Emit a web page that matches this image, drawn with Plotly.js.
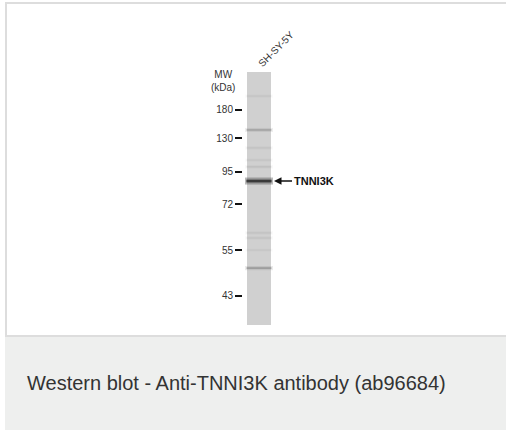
<!DOCTYPE html>
<html>
<head>
<meta charset="utf-8">
<script src="https://cdn.plot.ly/plotly-3.0.1.min.js"></script>
<style>html,body{margin:0;padding:0;background:#fff;}#chart{width:506px;height:430px;}</style>
</head>
<body>
<div id="chart"></div>
<script>
// ---- data ----
const laneLabels = ['SH-SY-5Y'];
const mwLabels = ['180', '130', '95', '72', '55', '43'];
// relative migration (0 = top of lane, 1 = bottom of lane) of the marker ladder
const mwRf = [0.150, 0.261, 0.395, 0.522, 0.704, 0.885];
// bands seen in the lane: relative migration and darkness (0..1)
const bandRf = [0.095, 0.229, 0.300, 0.348, 0.375, 0.431, 0.636, 0.656, 0.704, 0.775];
const bandIntensity = [0.05, 0.20, 0.06, 0.05, 0.07, 0.80, 0.06, 0.06, 0.04, 0.24];
const targetName = 'TNNI3K';
const targetRf = 0.431;
const mwTitle = 'MW<br>(kDa)';
const caption = 'Western blot - Anti-TNNI3K antibody (ab96684)';

// ---- layout geometry (pixels) ----
const W = 506, H = 430;
const L = 243, T = 72, PW = 32, PH = 253;
const R = W - L - PW, B = H - T - PH;
const px = v => (v - L) / PW;     // pixel x -> paper x
const py = v => (T + PH - v) / PH; // pixel y -> paper y
const FONT = 'Liberation Sans, Arial, Helvetica, sans-serif';

const laneX = laneLabels.map((_, i) => i);
const bandX = bandRf.map(() => 0);

const lane = {
  type: 'bar', x: laneX, y: laneX.map(() => 1), base: laneX.map(() => 0),
  width: 1, marker: {color: '#d0d0d0', line: {width: 0}},
  hoverinfo: 'skip', showlegend: false
};
const glow = {
  type: 'scatter', mode: 'markers', x: bandX, y: bandRf,
  marker: {
    symbol: 'line-ew', size: 20,
    line: {
      color: bandIntensity.map(a => 'rgba(40,40,40,' + (a * 0.4).toFixed(3) + ')'),
      width: bandIntensity.map(a => 3 + a * 5)
    }
  },
  hoverinfo: 'skip', showlegend: false
};
const core = {
  type: 'scatter', mode: 'markers', x: bandX, y: bandRf,
  marker: {
    symbol: 'line-ew', size: 18,
    line: {
      color: bandIntensity.map(a => 'rgba(35,35,35,' + a.toFixed(3) + ')'),
      width: bandIntensity.map(a => 1.2 + a * 2)
    }
  },
  hoverinfo: 'skip', showlegend: false
};

const layout = {
  width: W, height: H,
  margin: {l: L, r: R, t: T, b: B, pad: 0},
  paper_bgcolor: '#ffffff', plot_bgcolor: 'rgba(0,0,0,0)',
  font: {family: FONT, size: 10, color: '#333'},
  showlegend: false,
  xaxis: {
    range: [-0.6667, 0.6667], side: 'top', tickvals: laneX, ticktext: laneLabels,
    tickangle: -45, ticks: '', showgrid: false, zeroline: false, showline: false,
    tickfont: {family: FONT, size: 10, color: '#333'}, fixedrange: true
  },
  yaxis: {
    range: [1, 0], tickvals: mwRf, ticktext: mwLabels,
    ticks: 'outside', ticklen: 7, tickwidth: 2, tickcolor: '#111',
    showgrid: false, zeroline: false, showline: false,
    tickfont: {family: FONT, size: 10, color: '#333'}, fixedrange: true
  },
  shapes: [
    {type: 'rect', layer: 'below', xref: 'paper', yref: 'paper',
     x0: px(6), x1: px(520), y0: py(3), y1: py(336),
     fillcolor: '#ffffff', line: {color: '#dddddd', width: 2}},
    {type: 'rect', layer: 'below', xref: 'paper', yref: 'paper',
     x0: px(5), x1: px(520), y0: py(337), y1: py(440),
     fillcolor: '#eeefee', line: {width: 0}}
  ],
  annotations: [
    {xref: 'paper', yref: 'y', x: 0, y: 0.036, xshift: -6, xanchor: 'right', yanchor: 'middle',
     text: mwTitle, showarrow: false, align: 'center',
     font: {family: FONT, size: 10, color: '#333'}},
    {xref: 'x', yref: 'y', x: 0.625, y: targetRf, ax: 18, ay: 0, axref: 'pixel', ayref: 'pixel',
     xanchor: 'left', yanchor: 'middle',
     text: '<b>' + targetName + '</b>', showarrow: true, arrowhead: 2, arrowsize: 1,
     arrowwidth: 1.5, arrowcolor: '#111', standoff: 0,
     font: {family: FONT, size: 11, color: '#111'}},
    {xref: 'paper', yref: 'paper', x: px(25), y: py(383), xanchor: 'left', yanchor: 'middle',
     text: caption, showarrow: false,
     font: {family: FONT, size: 20, color: '#333'}}
  ]
};

Plotly.newPlot('chart', [lane, glow, core], layout, {displayModeBar: false, staticPlot: true});
</script>
</body>
</html>
